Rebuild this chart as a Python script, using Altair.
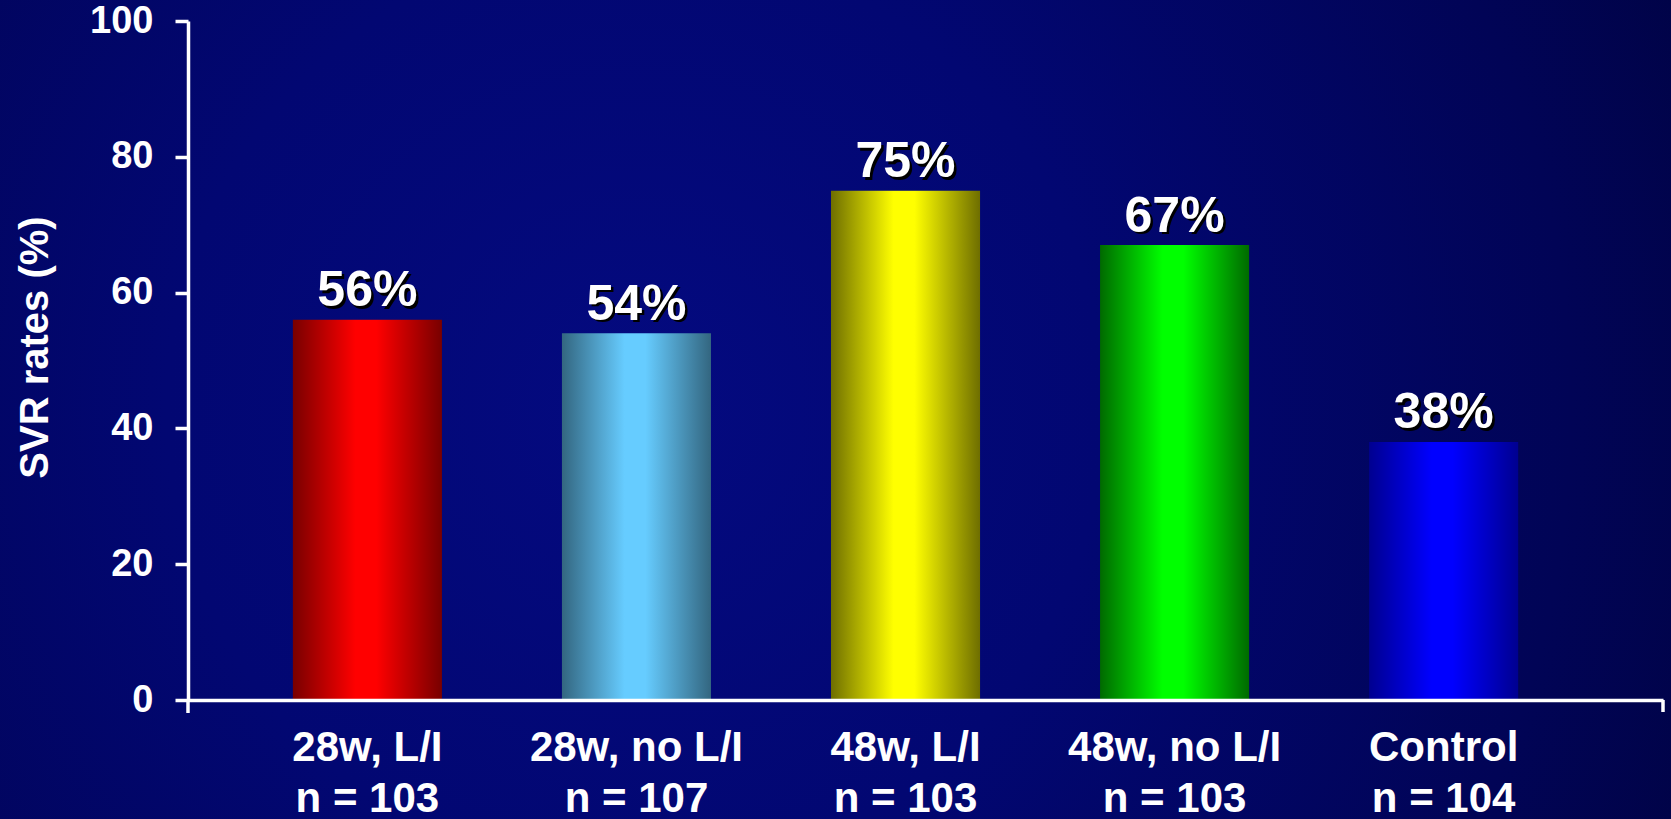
import altair as alt
import pandas as pd

# Treatment arms, group sizes and sustained virological response rates (%)
groups = ["28w, L/I", "28w, no L/I", "48w, L/I", "48w, no L/I", "Control"]
sizes = [103, 107, 103, 103, 104]
svr = [56, 54, 75, 67, 38]
y_ticks = [0, 20, 40, 60, 80, 100]

# Cylinder-style shading per bar: dark edge colour -> bright centre colour
edge_colors = ["#780000", "#336680", "#6e6e00", "#006a00", "#000090"]
mid_colors = ["#ff0000", "#66ccff", "#ffff00", "#00ff00", "#0000ff"]

cats = [f"{g}|n = {n}" for g, n in zip(groups, sizes)]
df = pd.DataFrame({
    "group": cats,
    "svr": svr,
    "label": [f"{v}%" for v in svr],
})

W, H = 1475, 679
PAD = {"left": 188, "top": 21, "right": 8, "bottom": 119}
FONT = "Liberation Sans"

x_enc = alt.X(
    "group:N",
    sort=cats,
    scale=alt.Scale(paddingInner=0.446, paddingOuter=0.464, align=0.42),
    axis=alt.Axis(
        title=None,
        labelExpr="split(datum.label, '|')",
        labelFont=FONT, labelFontSize=42, labelFontWeight="bold",
        labelColor="white", labelLineHeight=51, labelPadding=27,
        labelBaseline="top", labelAngle=0, labelLimit=0,
        ticks=False, domainColor="white", domainWidth=3.5,
        grid=False, zindex=1,
    ),
)
y_enc = alt.Y(
    "svr:Q",
    scale=alt.Scale(domain=[0, 100], nice=False),
    axis=alt.Axis(
        title="SVR rates (%)",
        values=y_ticks,
        labelFont=FONT, labelFontSize=38, labelFontWeight="bold",
        labelColor="white", labelPadding=22,
        tickColor="white", tickWidth=3.5, tickSize=13,
        domainColor="white", domainWidth=3.5, grid=False,
        titleFont=FONT, titleFontSize=40, titleFontWeight="bold",
        titleColor="white", titleAngle=270, titleBaseline="bottom",
        titleAlign="center", titleX=-133, titleY=326, zindex=1,
    ),
)

# Dark navy slide background
bg = alt.Chart(pd.DataFrame({"k": [0]})).mark_rect(
    fill=alt.RadialGradient(
        gradient="radial",
        x1=0.38, y1=0.5, r1=0.0,
        x2=0.38, y2=0.5, r2=0.8,
        stops=[
            alt.GradientStop(color="#040a80", offset=0),
            alt.GradientStop(color="#020772", offset=0.35),
            alt.GradientStop(color="#010456", offset=0.7),
            alt.GradientStop(color="#000238", offset=1),
        ],
    )
).encode(
    x=alt.value(-PAD["left"]), x2=alt.value(W + PAD["right"]),
    y=alt.value(-PAD["top"]), y2=alt.value(H + PAD["bottom"]),
)

layers = [bg]
for cat, edge, mid in zip(cats, edge_colors, mid_colors):
    grad = alt.LinearGradient(
        gradient="linear", x1=0, x2=1, y1=0, y2=0,
        stops=[
            alt.GradientStop(color=edge, offset=0),
            alt.GradientStop(color=mid, offset=0.42),
            alt.GradientStop(color=mid, offset=0.56),
            alt.GradientStop(color=edge, offset=1),
        ],
    )
    layers.append(
        alt.Chart(df).transform_filter(alt.datum.group == cat)
        .mark_bar(fill=grad, stroke="transparent")
        .encode(x=x_enc, y=y_enc)
    )

# Value labels with a dark drop shadow
shadow = alt.Chart(df).mark_text(
    font=FONT, fontSize=50, fontWeight="bold", color="#000000",
    baseline="alphabetic", dy=-11, dx=2.5,
).encode(x=x_enc, y=y_enc, text="label:N")
labels = alt.Chart(df).mark_text(
    font=FONT, fontSize=50, fontWeight="bold", color="white",
    baseline="alphabetic", dy=-13.5,
).encode(x=x_enc, y=y_enc, text="label:N")

# Short downward ticks closing both ends of the category axis
end_left = alt.Chart(pd.DataFrame({"k": [0]})).mark_rule(
    color="white", strokeWidth=3.5
).encode(x=alt.value(0), y=alt.value(H), y2=alt.value(H + 13))
end_right = alt.Chart(pd.DataFrame({"k": [0]})).mark_rule(
    color="white", strokeWidth=3.5
).encode(x=alt.value(W), y=alt.value(H), y2=alt.value(H + 12))

chart = alt.layer(*layers, shadow, labels, end_left, end_right).properties(
    width=W, height=H,
    autosize=alt.AutoSizeParams(type="none"),
    padding=PAD,
    background="#000240",
).configure_view(stroke="transparent")

chart.save("out.html", embed_options={"renderer": "svg", "actions": False})
